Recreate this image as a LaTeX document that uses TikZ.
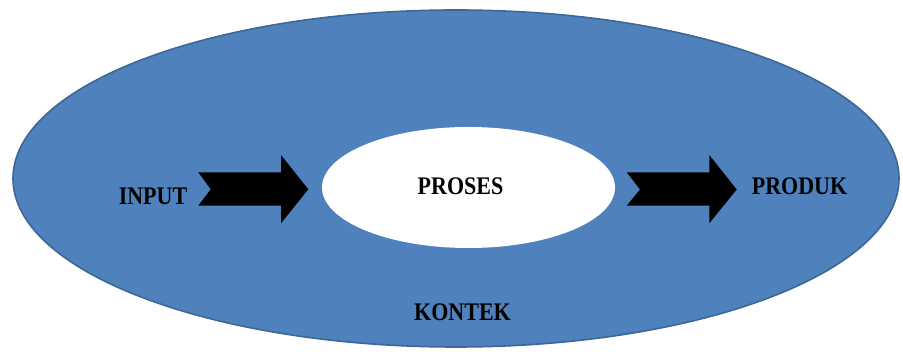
\documentclass[tikz,border=0pt]{standalone}
\usepackage{fontspec}
\usepackage{graphicx}
\setmainfont{Liberation Serif}
\usetikzlibrary{shapes.geometric}
\definecolor{ctxblue}{HTML}{4F81BD}
\definecolor{ctxedge}{HTML}{3C6796}
\tikzset{
  lbl/.style={font=\fontsize{22}{26}\selectfont\bfseries, inner sep=0pt, text=black},
  blockarrow/.style={fill=black, draw=none}
}
\newcommand{\tall}[1]{\scalebox{1}[1.15]{#1}}
\begin{document}
\begin{tikzpicture}[x=1pt,y=-1pt]
\useasboundingbox (0,0) rectangle (903,352);
\node[ellipse, draw=ctxedge, line width=1.6pt, fill=ctxblue, minimum width=886pt, minimum height=337pt, inner sep=0pt] (kontekellipse) at (456,178.5) {};
\node[ellipse, fill=white, draw=none, minimum width=293pt, minimum height=121pt, inner sep=0pt] (prosesellipse) at (468.5,187.5) {};
\node[lbl] (proses) at (460.5,186.5) {\tall{PROSES}};
\node[lbl] (input) at (153,196) {\tall{INPUT}};
\node[lbl] (produk) at (799.5,186.5) {\tall{PRODUK}};
\node[lbl] (kontek) at (462.5,312) {\tall{KONTEK}};
% left block arrow
\fill[blockarrow] (198.3,172.3) -- (281,172.3) -- (281,155) -- (308.3,189.3) -- (281,223.3) -- (281,205.7) -- (198.3,205.7) -- (210.7,189.3) -- cycle;
% right block arrow
\fill[blockarrow] (626.7,172.3) -- (709.3,172.3) -- (709.3,155) -- (736.7,189.5) -- (709.3,223.3) -- (709.3,205.7) -- (626.7,205.7) -- (640,189.5) -- cycle;
\end{tikzpicture}
\end{document}
